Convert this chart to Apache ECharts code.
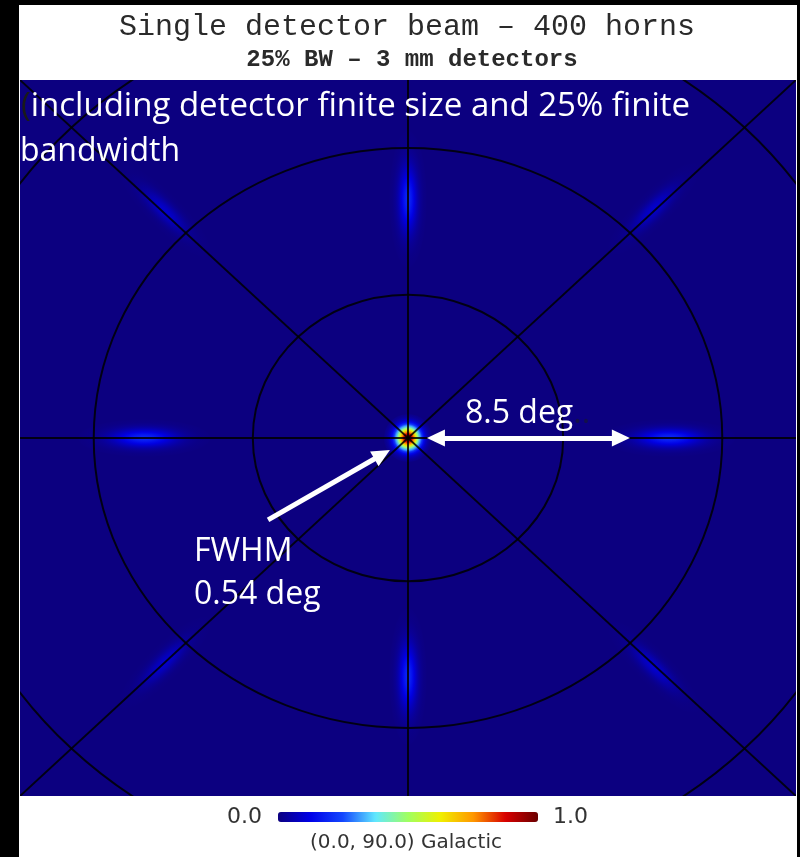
<!DOCTYPE html>
<html lang="en">
<head>
    <meta charset="UTF-8">
    <title>Single detector beam - 400 horns</title>
    <script src="https://cdn.jsdelivr.net/npm/echarts@6/dist/echarts.min.js"></script>
    <style>
        html, body { margin: 0; padding: 0; background: #000; }
        #paper { position: absolute; left: 19px; top: 5px; width: 778px; height: 852px; background: #fff; }
        #chart { position: absolute; left: 0; top: 0; width: 800px; height: 857px; }
    </style>
</head>
<body>
<div id="paper"></div>
<div id="chart"></div>
<script>
    // beam lobes (degrees from the pointing centre)
    var lobeNames = ['main', 'top', 'bottom', 'left', 'right', 'upLeft', 'upRight', 'downLeft', 'downRight'];
    var lobeX = [0, 0, 0, -10.2, 10.1, -9.4, 9.5, -9.4, 9.5];
    var lobeY = [0, 10.0, -10.0, 0, 0, 9.5, 9.6, -9.4, -9.6];
    var lobePeak = [1.0, 0.19, 0.19, 0.19, 0.19, 0.09, 0.09, 0.09, 0.09];
    var lobeLong = [0.31, 0.88, 0.88, 0.85, 0.85, 0.8, 0.8, 0.8, 0.8];   // sigma along the streak
    var lobeWide = [0.31, 0.24, 0.24, 0.24, 0.24, 0.22, 0.22, 0.22, 0.22]; // sigma across
    var lobeAngle = [0, 90, 90, 0, 0, -45, 45, 45, -45];

    // graticule
    var ringRadii = [6.0, 12.15, 18.4];
    var spokeAngles = [0, 45, 90, 135];
    var mapHalf = 15;

    // colour bar
    var barLabels = ['0.0', '1.0'];
    var palette = ['#0c0080', '#0000e8', '#1448ff', '#60e8ff', '#a0ff60', '#f0f000', '#ff9800', '#d80000', '#6a0000'];

    // annotation arrows (degrees)
    var spanArrow = [[1.08, 0], [8.23, 0]];
    var fwhmArrow = [[-5.41, -3.43], [-1.0, -0.69]];

    var chart = echarts.init(document.getElementById('chart'));

    function hex(c) {
        return [parseInt(c.substr(1, 2), 16), parseInt(c.substr(3, 2), 16), parseInt(c.substr(5, 2), 16)];
    }
    function jet(v) {
        v = Math.max(0, Math.min(1, v));
        var p = v * (palette.length - 1);
        var i = Math.min(Math.floor(p), palette.length - 2);
        var f = p - i;
        var a = hex(palette[i]), b = hex(palette[i + 1]);
        return 'rgb(' + Math.round(a[0] + (b[0] - a[0]) * f) + ',' +
            Math.round(a[1] + (b[1] - a[1]) * f) + ',' +
            Math.round(a[2] + (b[2] - a[2]) * f) + ')';
    }
    // radial gradient of a gaussian lobe out to 3 sigma
    function lobeFill(peak) {
        var stops = [];
        for (var k = 0; k <= 12; k++) {
            var t = k / 12;
            stops.push({ offset: t, color: jet(peak * Math.exp(-Math.pow(3 * t, 2) / 2)) });
        }
        return { type: 'radial', x: 0.5, y: 0.5, r: 0.5, colorStops: stops };
    }

    var lobeData = [];
    for (var i = 0; i < lobeNames.length; i++) {
        lobeData.push({ name: lobeNames[i], value: [lobeX[i], lobeY[i], lobePeak[i], lobeLong[i], lobeWide[i], lobeAngle[i]] });
    }

    var textFont = '32px "Open Sans"';
    var noteFont = '33px "Open Sans"';

    var option = {
        animation: false,
        grid: {
            left: 20, top: 80, width: 776, height: 716,
            show: true, backgroundColor: palette[0], borderWidth: 0
        },
        xAxis: { type: 'value', min: -mapHalf, max: mapHalf, show: false },
        yAxis: { type: 'value', min: -mapHalf, max: mapHalf, show: false },
        visualMap: {
            type: 'continuous', min: 0, max: 1,
            orient: 'horizontal', left: 278, top: 812,
            itemWidth: 10, itemHeight: 260, padding: 0,
            calculable: false, hoverLink: false,
            seriesIndex: 0, dimension: 2,
            inRange: { color: palette }
        },
        series: [{
            // beam
            type: 'custom',
            clip: true,
            z: 2,
            encode: { x: 0, y: 1 },
            data: lobeData,
            renderItem: function(params, api) {
                var c = api.coord([api.value(0), api.value(1)]);
                var s = api.size([1, 1]);
                return {
                    type: 'circle',
                    x: c[0], y: c[1],
                    rotation: api.value(5) * Math.PI / 180,
                    scaleX: api.value(3) / api.value(4),
                    shape: { cx: 0, cy: 0, r: 3 * api.value(4) * s[0] },
                    style: { fill: lobeFill(api.value(2)) }
                };
            }
        }, {
            // graticule rings
            type: 'custom',
            clip: true,
            z: 3,
            data: ringRadii.map(function(r) { return [0, 0, r]; }),
            renderItem: function(params, api) {
                var c = api.coord([0, 0]);
                var s = api.size([api.value(2), api.value(2)]);
                return {
                    type: 'ellipse',
                    shape: { cx: c[0], cy: c[1], rx: s[0], ry: s[1] },
                    style: { fill: null, stroke: '#000', lineWidth: 2, opacity: 0.85 }
                };
            }
        }, {
            // graticule spokes
            type: 'custom',
            clip: true,
            z: 3,
            data: spokeAngles.map(function(a) { return [0, 0, a]; }),
            renderItem: function(params, api) {
                var a = api.value(2) * Math.PI / 180;
                var cs = Math.cos(a), sn = Math.sin(a);
                var t = mapHalf / Math.max(Math.abs(cs), Math.abs(sn));
                var p1 = api.coord([-t * cs, -t * sn]);
                var p2 = api.coord([t * cs, t * sn]);
                return {
                    type: 'line',
                    shape: { x1: p1[0], y1: p1[1], x2: p2[0], y2: p2[1] },
                    style: { stroke: '#000', lineWidth: 2, opacity: 0.85 }
                };
            }
        }, {
            // white arrows
            type: 'line',
            data: [],
            z: 5,
            markLine: {
                silent: true,
                symbol: ['triangle', 'triangle'],
                symbolSize: [17, 18],
                label: { show: false },
                lineStyle: { color: '#fff', width: 5, type: 'solid', opacity: 1 },
                data: [
                    [{ coord: spanArrow[0] }, { coord: spanArrow[1] }],
                    [{ coord: fwhmArrow[0], symbol: 'none' }, { coord: fwhmArrow[1], symbol: 'triangle' }]
                ]
            }
        }],
        graphic: [{
            type: 'text', x: 407, y: 27, z: 10,
            style: { text: 'Single detector beam – 400 horns', font: '30px "Liberation Mono"', fill: '#2a2a2a', textAlign: 'center', textVerticalAlign: 'middle' }
        }, {
            type: 'text', x: 412, y: 60, z: 10,
            style: { text: '25% BW – 3 mm detectors', font: 'bold 24px "Liberation Mono"', fill: '#2a2a2a', textAlign: 'center', textVerticalAlign: 'middle' }
        }, {
            type: 'text', x: 21, y: 107, z: 10,
            style: {
                text: '{p|(}including detector finite size and 25% finite',
                font: noteFont, fill: '#fff', textVerticalAlign: 'middle',
                rich: { p: { font: noteFont, fill: '#1a1a1a' } }
            }
        }, {
            type: 'text', x: 20, y: 152, z: 10,
            style: { text: 'bandwidth', font: textFont, fill: '#fff', textVerticalAlign: 'middle' }
        }, {
            type: 'text', x: 465, y: 414, z: 10,
            style: {
                text: '8.5 deg{d|..}', font: textFont, fill: '#fff', textVerticalAlign: 'middle',
                rich: { d: { font: textFont, fill: '#14104a' } }
            }
        }, {
            type: 'text', x: 194, y: 552, z: 10,
            style: { text: 'FWHM', font: textFont, fill: '#fff', textVerticalAlign: 'middle' }
        }, {
            type: 'text', x: 194, y: 595, z: 10,
            style: { text: '0.54 deg', font: textFont, fill: '#fff', textVerticalAlign: 'middle' }
        }, {
            type: 'text', x: 262, y: 817, z: 10,
            style: { text: barLabels[0], font: '22px "DejaVu Sans"', fill: '#333', textAlign: 'right', textVerticalAlign: 'middle' }
        }, {
            type: 'text', x: 553, y: 817, z: 10,
            style: { text: barLabels[1], font: '22px "DejaVu Sans"', fill: '#333', textAlign: 'left', textVerticalAlign: 'middle' }
        }, {
            type: 'text', x: 406, y: 843, z: 10,
            style: { text: '(0.0, 90.0) Galactic', font: '20px "DejaVu Sans"', fill: '#333', textAlign: 'center', textVerticalAlign: 'middle' }
        }]
    };

    chart.setOption(option);
</script>
</body>
</html>
